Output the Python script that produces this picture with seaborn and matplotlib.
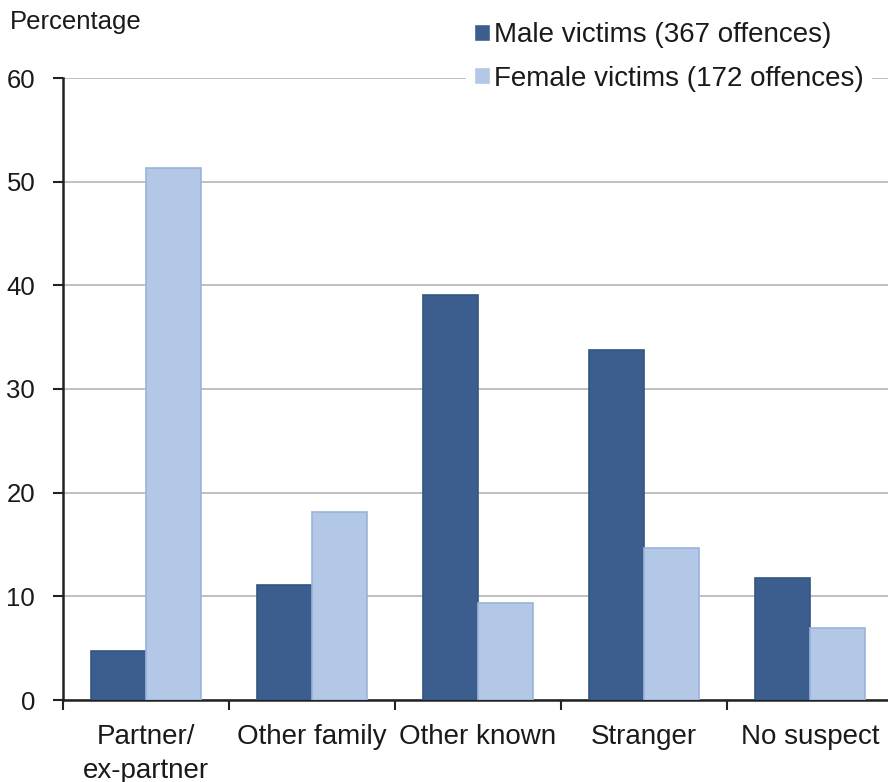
import pandas as pd
import matplotlib
matplotlib.use('Agg')
import matplotlib.pyplot as plt
import seaborn as sns

# chart data
categories = ['Partner/\nex-partner', 'Other family', 'Other known', 'Stranger', 'No suspect']
male_values = [4.7, 11.1, 39.1, 33.8, 11.8]
female_values = [51.3, 18.1, 9.4, 14.7, 6.9]
series_names = ['Male victims (367 offences)', 'Female victims (172 offences)']
y_ticks = [0, 10, 20, 30, 40, 50, 60]

df = pd.DataFrame({
    'category': categories * 2,
    'value': male_values + female_values,
    'group': [series_names[0]] * len(categories) + [series_names[1]] * len(categories),
})

sns.set_theme(style='white')
plt.rcParams['font.family'] = ['Liberation Sans', 'DejaVu Sans']
text_col = '#1a1a1a'

fig = plt.figure(figsize=(8.88, 7.82), dpi=100)
ax = fig.add_axes([63 / 888, 82 / 782, 830 / 888, 622 / 782])

male_col = '#3b5e8e'
female_col = '#b3c7e6'
sns.barplot(data=df, x='category', y='value', hue='group', order=categories,
            hue_order=series_names, palette=[male_col, female_col],
            saturation=1, width=0.66, ax=ax, zorder=3)

edges = ['#34557f', '#9bb3d8']
for cont, ec in zip(ax.containers, edges):
    for bar in cont:
        bar.set_edgecolor(ec)
        bar.set_linewidth(1.2)

ax.set_xlim(-0.5, 4.5)
ax.set_ylim(0, 60)
ax.set_yticks(y_ticks)
ax.yaxis.grid(True, color='#c0c0c0', linewidth=1.4, zorder=0)
ax.set_axisbelow(True)

for s in ['top', 'right']:
    ax.spines[s].set_visible(False)
for s in ['left', 'bottom']:
    ax.spines[s].set_color('#222222')
    ax.spines[s].set_linewidth(1.8)

ax.set_xlabel('')
ax.set_ylabel('')
ax.tick_params(axis='y', which='major', direction='out', length=7, width=1.5,
               color='#222222', labelsize=18.5, labelcolor=text_col, pad=13, left=True)
ax.tick_params(axis='x', which='major', length=0, labelsize=20, labelcolor=text_col, pad=17)
for lbl in ax.get_xticklabels():
    lbl.set_linespacing(1.4)
ax.set_xticks([i - 0.5 for i in range(6)], minor=True)
ax.tick_params(axis='x', which='minor', direction='out', length=7, width=1.5,
               color='#222222', bottom=True)

fig.text(10 / 888, 1 - 22 / 782, 'Percentage', fontsize=18.5, color=text_col,
         ha='left', va='center')

leg = ax.legend(loc='upper left', bbox_to_anchor=(466 / 888, 1 - 14 / 782),
                bbox_transform=fig.transFigure, frameon=True, framealpha=1,
                facecolor='white', edgecolor='none', fancybox=False,
                fontsize=20, handlelength=0.55, handleheight=0.55,
                handletextpad=0.15, labelspacing=0.62, borderpad=0.3,
                borderaxespad=0)
for t in leg.get_texts():
    t.set_color(text_col)
leg.set_zorder(5)

fig.savefig('out.png', dpi=100)
